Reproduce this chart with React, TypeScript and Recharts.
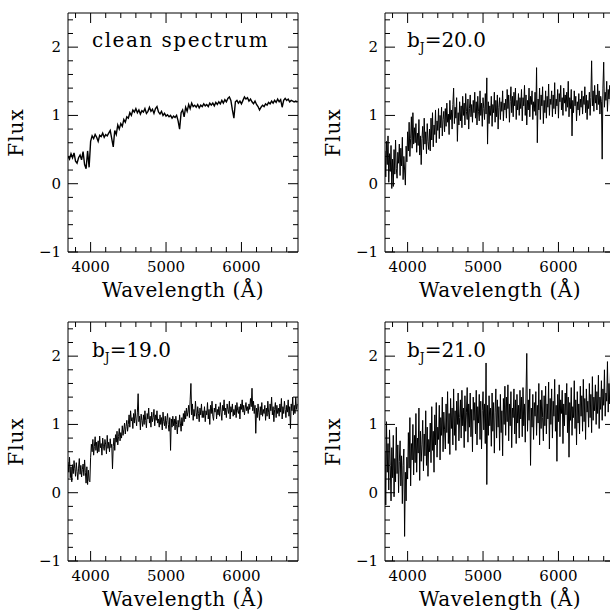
import React from "react";
import { LineChart, Line, XAxis, YAxis, ReferenceLine } from "recharts";

// spectra start at 3700 Å; clean one sampled every 20 Å, noisy ones every 10 Å
const WL_START = 3700;
const CLEAN_STEP = 20;
const NOISY_STEP = 10;

// rows of 10 values = 200 Å
const cleanFlux = [
  0.40, 0.36, 0.44, 0.38, 0.45, 0.33, 0.30, 0.38, 0.42, 0.35,
  0.47, 0.28, 0.22, 0.48, 0.24, 0.62, 0.70, 0.66, 0.72, 0.68,
  0.62, 0.71, 0.69, 0.74, 0.68, 0.72, 0.70, 0.74, 0.78, 0.66,
  0.54, 0.78, 0.72, 0.86, 0.80, 0.88, 0.84, 0.94, 0.90, 0.98,
  0.96, 1.04, 1.00, 1.08, 1.05, 1.10, 1.04, 1.08, 1.02, 1.07,
  1.05, 1.10, 1.03, 1.06, 1.12, 1.06, 1.09, 1.03, 1.10, 1.13,
  1.05, 1.02, 1.06, 1.00, 1.03, 0.99, 1.01, 0.98, 1.00, 0.96,
  0.99, 0.97, 1.00, 0.92, 0.80, 1.04, 1.08, 0.98, 1.12, 1.06,
  1.16, 1.10, 1.18, 1.13, 1.15, 1.12, 1.16, 1.11, 1.15, 1.13,
  1.17, 1.14, 1.16, 1.13, 1.18, 1.15, 1.18, 1.14, 1.19, 1.16,
  1.20, 1.17, 1.22, 1.18, 1.23, 1.20, 1.25, 1.27, 1.22, 1.08,
  0.96, 1.20, 1.22, 1.18, 1.21, 1.17, 1.22, 1.27, 1.24, 1.26,
  1.21, 1.24, 1.20, 1.17, 1.21, 1.16, 1.13, 1.08, 1.12, 1.15,
  1.13, 1.17, 1.15, 1.19, 1.17, 1.21, 1.18, 1.22, 1.19, 1.24,
  1.20, 1.23, 1.12, 1.22, 1.25, 1.22, 1.24, 1.20, 1.22, 1.21,
  1.20, 1.21, 1.20,
];

// rows of 20 values = 200 Å
const bj19Flux = [
  0.45, 0.30, 0.52, 0.22, 0.38, 0.16, 0.41, 0.28, 0.47, 0.35, 0.24, 0.44, 0.31, 0.19, 0.36, 0.50, 0.27, 0.40, 0.23, 0.34,
  0.42, 0.25, 0.48, 0.30, 0.14, 0.38, 0.12, 0.33, 0.18, 0.16, 0.52, 0.71, 0.60, 0.78, 0.55, 0.68, 0.82, 0.62, 0.74, 0.58,
  0.76, 0.60, 0.83, 0.66, 0.72, 0.55, 0.80, 0.68, 0.62, 0.78, 0.70, 0.57, 0.84, 0.65, 0.74, 0.60, 0.79, 0.66, 0.71, 0.35,
  0.68, 0.80, 0.62, 0.85, 0.74, 0.90, 0.70, 0.82, 0.94, 0.76, 0.88, 0.80, 0.98, 0.84, 0.92, 1.02, 0.86, 0.97, 1.06, 0.90,
  1.00, 1.14, 0.96, 1.20, 1.05, 1.10, 0.94, 1.16, 1.02, 1.22, 1.08, 0.98, 1.18, 1.45, 1.04, 1.12, 0.92, 1.15, 1.06, 0.97,
  1.14, 1.00, 1.20, 1.06, 0.95, 1.16, 1.08, 1.24, 1.02, 1.12, 0.96, 1.18, 1.04, 1.10, 1.22, 0.98, 1.14, 1.06, 1.20, 1.02,
  1.08, 0.96, 1.14, 1.00, 1.10, 0.92, 1.18, 1.04, 0.98, 1.12, 0.94, 1.06, 1.16, 1.00, 0.90, 1.10, 0.62, 1.08, 0.96, 1.12,
  0.98, 1.08, 0.92, 1.12, 1.00, 0.86, 1.06, 0.96, 1.14, 1.02, 0.90, 1.10, 0.98, 1.16, 1.04, 1.20, 1.08, 1.24, 1.12, 1.18,
  1.28, 1.10, 1.36, 1.60, 1.14, 1.30, 1.06, 1.22, 1.12, 1.34, 1.18, 1.08, 1.26, 1.16, 1.04, 1.24, 1.14, 1.30, 1.10, 1.20,
  1.10, 1.26, 1.04, 1.20, 1.14, 1.32, 1.08, 1.22, 1.00, 1.28, 1.16, 1.34, 1.12, 1.06, 1.24, 1.18, 1.30, 1.08, 1.22, 1.14,
  1.26, 1.12, 1.32, 1.18, 1.06, 1.28, 1.20, 1.36, 1.14, 1.24, 1.10, 1.30, 1.22, 1.16, 1.34, 1.08, 1.26, 1.18, 1.30, 1.12,
  1.22, 1.14, 1.28, 1.10, 1.32, 1.20, 1.16, 1.26, 1.08, 1.30, 1.22, 1.36, 1.18, 1.28, 1.14, 1.24, 1.32, 1.20, 1.26, 1.16,
  1.30, 1.22, 1.38, 1.26, 1.53, 1.20, 1.34, 1.16, 1.28, 0.87, 1.24, 1.10, 1.30, 1.18, 1.06, 1.26, 1.14, 1.32, 1.12, 1.22,
  1.16, 1.28, 1.06, 1.24, 1.12, 1.34, 1.18, 1.08, 1.30, 1.20, 1.40, 1.14, 1.26, 1.04, 1.22, 1.32, 1.10, 1.28, 1.16, 1.24,
  1.12, 1.30, 1.18, 1.38, 1.08, 1.26, 1.16, 1.34, 1.22, 1.10, 1.28, 1.18, 1.36, 1.12, 1.26, 0.94, 1.30, 1.20, 1.40, 1.14,
  1.28, 1.16, 1.40, 1.22, 1.30,
];

const bj20Flux = [
  0.48, 0.10, 0.62, 0.28, 0.70, 0.02, 0.44, 0.18, 0.56, -0.07, 0.36, -0.04, 0.50, 0.14, 0.64, 0.22, 0.08, 0.46, 0.30, 0.58,
  0.12, 0.52, 0.26, 0.68, 0.06, 0.40, 0.20, -0.02, 0.55, 0.32, 0.76, 0.48, 0.90, 0.40, 0.66, 0.98, 0.52, 1.04, 0.58, 0.82,
  0.60, 0.88, 0.46, 0.74, 0.56, 0.94, 0.42, 0.70, 0.28, 0.66, 0.84, 0.50, 0.96, 0.58, 0.76, 0.44, 0.88, 0.62, 0.50, 0.80,
  0.48, 0.96, 0.64, 1.04, 0.54, 0.86, 0.72, 1.08, 0.60, 0.92, 0.78, 1.10, 0.66, 1.00, 0.82, 1.12, 0.70, 0.94, 1.06, 0.76,
  1.10, 0.84, 1.18, 0.90, 1.02, 0.72, 1.22, 0.94, 1.08, 0.80, 1.16, 1.40, 0.88, 1.12, 0.96, 1.26, 0.62, 1.04, 0.86, 1.20,
  0.92, 1.14, 0.82, 1.28, 1.00, 1.18, 0.86, 1.32, 1.06, 0.94, 1.24, 0.80, 1.10, 1.30, 0.98, 1.16, 0.90, 1.22, 1.04, 1.34,
  0.96, 1.20, 0.86, 1.28, 1.06, 0.92, 1.36, 1.00, 1.18, 0.84, 1.26, 1.10, 0.94, 1.32, 1.02, 1.55, 0.58, 1.20, 0.88, 1.14,
  1.00, 1.28, 0.84, 1.16, 1.04, 1.34, 0.90, 1.22, 0.98, 1.30, 0.80, 1.12, 1.26, 0.94, 1.20, 1.06, 1.36, 0.92, 1.18, 1.08,
  1.24, 0.96, 1.38, 1.10, 1.30, 0.90, 1.20, 1.42, 1.04, 1.28, 0.98, 1.34, 1.14, 1.40, 0.94, 1.22, 1.08, 1.32, 1.00, 1.26,
  1.10, 1.38, 0.92, 1.26, 1.14, 1.44, 1.00, 1.30, 0.86, 1.22, 1.08, 1.40, 0.98, 1.28, 1.16, 1.36, 0.94, 1.20, 1.06, 1.34,
  1.00, 1.70, 0.60, 1.24, 1.08, 1.40, 0.94, 1.30, 1.14, 1.42, 0.88, 1.22, 1.04, 1.36, 0.96, 1.28, 1.12, 1.46, 1.00, 1.24,
  1.16, 1.36, 0.98, 1.30, 1.10, 1.48, 1.02, 1.24, 1.14, 1.38, 0.96, 1.32, 1.20, 1.44, 1.08, 1.26, 1.00, 1.40, 1.18, 1.30,
  1.06, 1.34, 1.12, 1.50, 0.98, 1.26, 1.10, 1.38, 0.70, 1.22, 1.04, 1.36, 1.14, 1.28, 0.92, 1.20, 1.08, 1.32, 1.00, 1.24,
  1.12, 1.36, 1.02, 1.28, 1.16, 1.42, 1.04, 1.30, 0.94, 1.22, 1.10, 1.34, 1.00, 1.26, 1.80, 1.14, 1.36, 1.06, 1.44, 1.18,
  1.30, 1.08, 1.46, 1.16, 1.36, 1.02, 1.28, 1.20, 0.36, 1.40, 1.78, 1.12, 1.34, 1.22, 1.50, 1.06, 1.38, 1.24, 1.44, 1.14,
  1.32, 1.20, 1.46, 1.26, 1.36,
];

const bj21Flux = [
  0.60, -0.18, 1.04, 0.30, 0.72, 0.04, 0.92, 0.40, -0.12, 0.66, 0.22, 0.84, -0.06, 0.50, 0.16, 0.96, 0.28, 0.70, 0.00, 0.46,
  0.76, 0.10, 0.54, -0.16, 0.40, 0.64, -0.64, 0.30, -0.12, 0.52, 0.20, 0.88, 0.36, 1.10, 0.10, 0.72, 0.48, 1.00, 0.26, 0.84,
  0.44, 1.16, 0.30, 0.80, 0.58, 1.24, 0.18, 0.90, 0.46, 0.70, 1.06, 0.32, 0.86, 0.54, 1.20, 0.40, 0.96, 0.24, 0.78, 0.60,
  1.02, 0.44, 1.26, 0.62, 0.90, 0.30, 1.14, 0.70, 1.32, 0.52, 0.96, 0.78, 1.28, 0.48, 1.10, 0.84, 1.40, 0.60, 1.18, 0.92,
  0.64, 1.30, 0.88, 1.48, 0.72, 1.16, 0.56, 1.38, 0.94, 1.24, 0.70, 1.52, 0.84, 1.20, 0.62, 1.34, 1.00, 1.46, 0.76, 1.10,
  1.36, 0.80, 1.50, 0.98, 1.24, 0.66, 1.42, 0.90, 1.18, 1.54, 0.74, 1.30, 0.96, 1.46, 0.82, 1.22, 0.60, 1.40, 1.06, 1.32,
  0.86, 1.50, 0.70, 1.26, 1.02, 1.44, 0.78, 1.34, 0.64, 1.20, 1.48, 0.92, 1.30, 0.72, 1.90, 0.12, 1.28, 0.84, 1.42, 0.98,
  1.24, 0.68, 1.46, 0.90, 1.32, 0.58, 1.18, 1.52, 0.80, 1.36, 0.96, 1.26, 0.62, 1.44, 0.88, 1.20, 0.54, 1.38, 1.00, 1.56,
  0.84, 1.40, 1.04, 1.58, 0.76, 1.30, 0.98, 1.48, 0.66, 1.24, 1.10, 1.52, 0.86, 1.36, 0.72, 1.44, 1.02, 1.28, 0.80, 1.50,
  1.08, 1.40, 0.82, 1.54, 0.98, 1.30, 0.74, 1.46, 2.04, 0.90, 1.36, 1.06, 1.52, 0.40, 1.24, 0.96, 1.44, 0.78, 1.32, 1.12,
  1.48, 0.84, 1.28, 1.02, 1.60, 0.70, 1.36, 0.94, 1.50, 1.10, 0.76, 1.42, 0.98, 1.56, 0.86, 1.30, 1.08, 1.62, 0.64, 1.38,
  1.00, 1.52, 0.80, 1.34, 1.12, 1.66, 0.90, 1.28, 0.46, 1.44, 1.04, 1.58, 0.82, 1.36, 1.16, 1.50, 0.72, 1.30, 0.98, 1.46,
  1.14, 1.60, 0.88, 1.40, 0.52, 1.32, 1.06, 1.54, 0.84, 1.26, 1.10, 1.64, 0.94, 1.36, 0.70, 1.48, 1.02, 1.30, 0.86, 1.56,
  1.12, 1.42, 0.90, 1.66, 1.04, 1.38, 0.78, 1.52, 1.18, 1.34, 0.96, 1.60, 1.10, 1.44, 0.88, 1.70, 1.06, 1.40, 1.20, 1.58,
  1.00, 1.48, 1.16, 1.72, 0.94, 1.40, 1.22, 1.64, 1.06, 1.52, 1.28, 1.80, 1.12, 1.46, 1.34, 1.92, 1.18, 1.60, 1.30, 1.76,
  2.10, 1.24, 1.56, 0.48, 1.40,
];

const xTicks = [3800, 4000, 4200, 4400, 4600, 4800, 5000, 5200, 5400, 5600, 5800, 6000, 6200, 6400, 6600];
const xMajor = [4000, 5000, 6000];
const yTicks = [-1, -0.8, -0.6, -0.4, -0.2, 0, 0.2, 0.4, 0.6, 0.8, 1, 1.2, 1.4, 1.6, 1.8, 2, 2.2, 2.4];
const yMajor = [-1, 0, 1, 2];

const FONT = "'DejaVu Serif', serif";
const PLOT_L = 68;
const PLOT_T = 13;
const PLOT_W = 230;
const PLOT_H = 239;
const CHART_W = 308;
const CHART_H = 308;

const toRows = (flux: number[], step: number) =>
  flux.map((f, i) => ({ wl: WL_START + i * step, flux: f }));

const XTick = (p: any) => {
  const { x, y, payload } = p;
  const v = payload.value;
  const major = xMajor.includes(v);
  const len = major ? 10 : 5;
  const top = y - PLOT_H;
  return (
    <g>
      <line x1={x} x2={x} y1={y} y2={y - len} stroke="#000" />
      <line x1={x} x2={x} y1={top} y2={top + len} stroke="#000" />
      {major && (
        <text x={x} y={y + 20} textAnchor="middle" fontFamily={FONT} fontSize={15} fill="#000">
          {v}
        </text>
      )}
    </g>
  );
};

const YTick = (p: any) => {
  const { x, y, payload } = p;
  const v = payload.value;
  const major = yMajor.includes(v);
  const len = major ? 10 : 5;
  const right = x + PLOT_W;
  return (
    <g>
      <line x1={x} x2={x + len} y1={y} y2={y} stroke="#000" />
      <line x1={right} x2={right - len} y1={y} y2={y} stroke="#000" />
      {major && (
        <text x={x - 7} y={y + 5} textAnchor="end" fontFamily={FONT} fontSize={15} fill="#000">
          {v === -1 ? "\u22121" : v}
        </text>
      )}
    </g>
  );
};

const xTitle = () => (
  <text
    x={PLOT_L + PLOT_W / 2}
    y={PLOT_T + PLOT_H + 45}
    textAnchor="middle"
    fontFamily={FONT}
    fontSize={20}
    letterSpacing={0.5}
    fill="#000"
  >
    Wavelength (Å)
  </text>
);

const yTitle = () => (
  <text
    transform={`translate(23, ${PLOT_T + PLOT_H / 2}) rotate(-90)`}
    textAnchor="middle"
    fontFamily={FONT}
    fontSize={20}
    letterSpacing={1}
    fill="#000"
  >
    Flux
  </text>
);

const BjText = ({ x, y, mag }: { x: number; y: number; mag: string }) => (
  <text x={x} y={y} fontFamily={FONT} fontSize={20} fill="#000">
    b
    <tspan fontSize={12} dy={5}>
      J
    </tspan>
    <tspan dy={-5}>={mag}</tspan>
  </text>
);

type PanelProps = {
  flux: number[];
  step: number;
  left: number;
  top: number;
  width?: number;
  note: (p: any) => React.ReactNode;
};

const Panel = ({ flux, step, left, top, width = 1, note }: PanelProps) => (
  <div style={{ position: "absolute", left, top }}>
    <LineChart
      width={CHART_W}
      height={CHART_H}
      data={toRows(flux, step)}
      margin={{ top: PLOT_T, right: CHART_W - PLOT_L - PLOT_W, bottom: 0, left: 0 }}
    >
      <XAxis
        dataKey="wl"
        type="number"
        domain={[3700, 6750]}
        allowDataOverflow
        ticks={xTicks}
        interval={0}
        tickSize={0}
        tickMargin={0}
        tickLine={false}
        tick={XTick}
        axisLine={{ stroke: "#000" }}
        height={CHART_H - PLOT_T - PLOT_H}
        label={xTitle}
      />
      <YAxis
        type="number"
        domain={[-1, 2.5]}
        allowDataOverflow
        ticks={yTicks}
        interval={0}
        tickSize={0}
        tickMargin={0}
        tickLine={false}
        tick={YTick}
        axisLine={{ stroke: "#000" }}
        width={PLOT_L}
        label={yTitle}
      />
      <ReferenceLine y={2.5} stroke="#000" label={note} />
      <ReferenceLine x={6750} stroke="#000" />
      <Line
        type="linear"
        dataKey="flux"
        stroke="#000"
        strokeWidth={width}
        dot={false}
        isAnimationActive={false}
      />
    </LineChart>
  </div>
);

export default function App() {
  return (
    <div
      style={{
        position: "absolute",
        left: 0,
        top: 0,
        width: 610,
        height: 616,
        overflow: "hidden",
        background: "#fff",
      }}
    >
      <Panel
        flux={cleanFlux}
        step={CLEAN_STEP}
        left={0}
        top={0}
        width={1.4}
        note={() => (
          <text x={92} y={47} fontFamily={FONT} fontSize={20} letterSpacing={1.5} fill="#000">
            clean spectrum
          </text>
        )}
      />
      <Panel
        flux={bj20Flux}
        step={NOISY_STEP}
        left={317}
        top={0}
        note={() => <BjText x={90} y={47} mag="20.0" />}
      />
      <Panel
        flux={bj19Flux}
        step={NOISY_STEP}
        left={0}
        top={309}
        note={() => <BjText x={92} y={48} mag="19.0" />}
      />
      <Panel
        flux={bj21Flux}
        step={NOISY_STEP}
        left={317}
        top={309}
        note={() => <BjText x={90} y={48} mag="21.0" />}
      />
    </div>
  );
}
